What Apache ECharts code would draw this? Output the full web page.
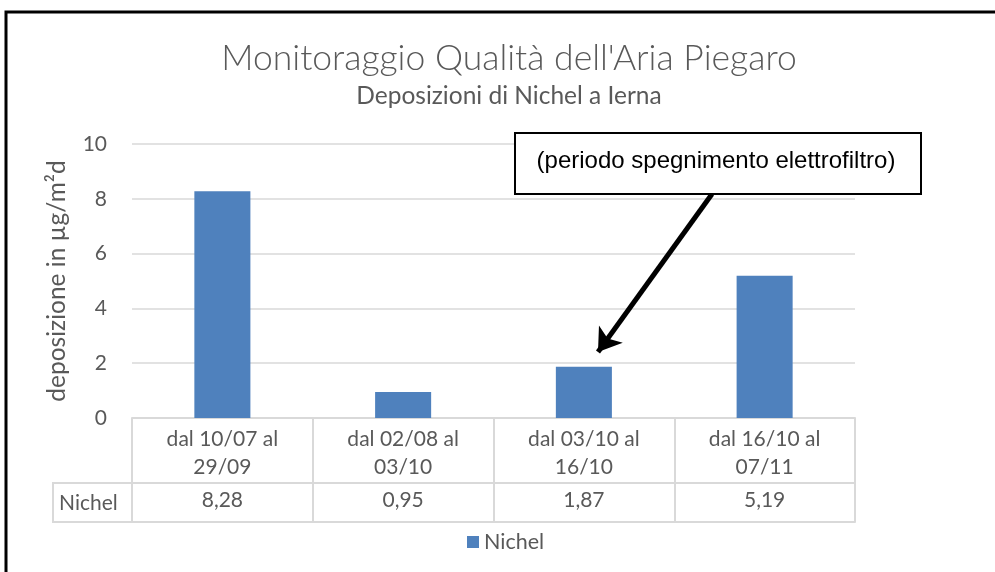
<!DOCTYPE html>
<html>
<head>
<meta charset="utf-8">
<script src="https://cdn.jsdelivr.net/npm/echarts@6/dist/echarts.min.js"></script>
<style>
  html, body { margin: 0; padding: 0; background: #fff; }
  #chart { width: 995px; height: 572px; }
</style>
</head>
<body>
<div id="chart"></div>
<script>
// categorie (periodi di campionamento) e valori di deposizione
var categories = ['dal 10/07 al\n29/09', 'dal 02/08 al\n03/10', 'dal 03/10 al\n16/10', 'dal 16/10 al\n07/11'];
var nichel = [8.28, 0.95, 1.87, 5.19];
var yTicks = [0, 2, 4, 6, 8, 10];

var FONT = 'Lato, "Open Sans", sans-serif';
var GREY = '#595959';
var LINE = '#d9d9d9';

var chart = echarts.init(document.getElementById('chart'));

// etichette della tabella dati con la virgola decimale
var valueLabels = nichel.map(function (v) {
  return v.toFixed(2).replace('.', ',');
});

var option = {
  animation: false,
  backgroundColor: '#fff',
  title: {
    text: "Monitoraggio Qualità dell'Aria Piegaro",
    subtext: 'Deposizioni di Nichel a Ierna',
    left: 504,
    top: 36,
    textAlign: 'center',
    itemGap: 7,
    textStyle: { fontFamily: FONT, fontSize: 35.5, fontWeight: 300, color: GREY },
    subtextStyle: { fontFamily: FONT, fontSize: 24.5, color: GREY }
  },
  legend: {
    data: ['Nichel'],
    left: 462,
    top: 526,
    icon: 'rect',
    itemWidth: 12,
    itemHeight: 12,
    itemGap: 8,
    textStyle: { fontFamily: FONT, fontSize: 21.5, color: GREY }
  },
  grid: { left: 132, right: 140, top: 144, bottom: 154 },
  xAxis: [
    {
      type: 'category',
      data: categories,
      position: 'bottom',
      axisLine: { lineStyle: { color: LINE, width: 2 } },
      axisTick: { show: true, length: 65, interval: 0, lineStyle: { color: LINE, width: 2 } },
      axisLabel: { interval: 0, margin: 7, lineHeight: 28, fontFamily: FONT, fontSize: 21, color: GREY }
    },
    {
      type: 'category',
      data: valueLabels,
      position: 'bottom',
      offset: 65,
      axisLine: { lineStyle: { color: LINE, width: 2 } },
      axisTick: { show: true, length: 39, interval: 0, lineStyle: { color: LINE, width: 2 } },
      axisLabel: { interval: 0, margin: 7, fontFamily: FONT, fontSize: 21, color: GREY }
    },
    {
      type: 'category',
      data: valueLabels,
      position: 'bottom',
      offset: 104,
      axisLine: { lineStyle: { color: LINE, width: 2 } },
      axisTick: { show: false },
      axisLabel: { show: false }
    }
  ],
  yAxis: {
    type: 'value',
    min: yTicks[0],
    max: yTicks[yTicks.length - 1],
    interval: 2,
    name: 'deposizione in µg/m²d',
    nameLocation: 'middle',
    nameGap: 62,
    nameTextStyle: { fontFamily: FONT, fontSize: 24.5, color: GREY },
    axisLine: { show: false },
    axisTick: { show: false },
    axisLabel: { margin: 25, fontFamily: FONT, fontSize: 21, color: GREY },
    splitLine: { lineStyle: { color: LINE, width: 1.5 } }
  },
  series: [
    {
      name: 'Nichel',
      type: 'bar',
      data: nichel,
      barWidth: '31%',
      itemStyle: { color: '#4f81bd' },
      markLine: {
        silent: true,
        symbol: ['none', 'arrow'],
        symbolSize: 22,
        label: { show: false },
        lineStyle: { color: '#000', width: 5, type: 'solid' },
        data: [[{ x: 712, y: 194, symbol: 'none' }, { x: 598, y: 352, symbol: 'arrow' }]]
      }
    }
  ],
  graphic: [
    // cornice esterna
    {
      type: 'rect',
      shape: { x: 6, y: 12, width: 1000, height: 600 },
      style: { fill: 'none', stroke: '#000', lineWidth: 3 }
    },
    // cella "Nichel" della tabella dati
    {
      type: 'rect',
      shape: { x: 53, y: 483, width: 79, height: 39 },
      style: { fill: 'none', stroke: LINE, lineWidth: 2 }
    },
    {
      type: 'text',
      x: 59,
      y: 503,
      style: { text: 'Nichel', fontFamily: FONT, fontSize: 21, fill: GREY, verticalAlign: 'middle' }
    },
    // riquadro annotazione
    {
      type: 'rect',
      shape: { x: 515, y: 133, width: 406, height: 61 },
      style: { fill: '#fff', stroke: '#000', lineWidth: 2 },
      z: 10
    },
    {
      type: 'text',
      x: 716,
      y: 161,
      z: 11,
      style: {
        text: '(periodo spegnimento elettrofiltro)',
        fontFamily: '"Liberation Sans", Arial, sans-serif',
        fontSize: 24,
        fill: '#000',
        align: 'center',
        verticalAlign: 'middle'
      }
    }
  ]
};

chart.setOption(option);
window.onresize = chart.resize;
</script>
</body>
</html>
